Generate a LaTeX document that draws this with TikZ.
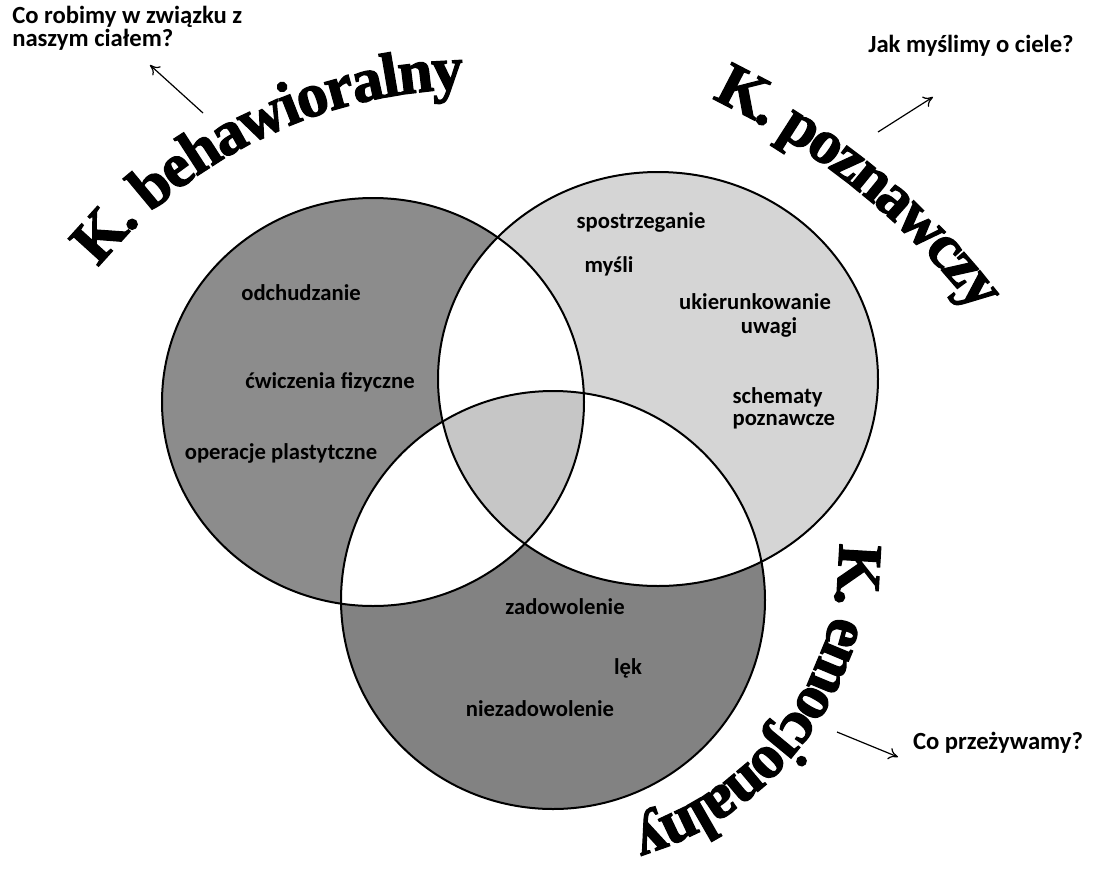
\documentclass[tikz,border=0pt]{standalone}
\usepackage{fontspec}
\setmainfont{Carlito}
\newfontfamily\titlefont{Liberation Serif Bold}[FakeBold=2]
\usetikzlibrary{arrows.meta}

\definecolor{behgrey}{HTML}{8C8C8C}
\definecolor{emogrey}{HTML}{828282}
\definecolor{coggrey}{HTML}{D5D5D5}
\definecolor{coregrey}{HTML}{C6C6C6}

% the three sets of the Venn diagram
\newcommand\behset{(373,-402) ellipse [x radius=211, y radius=204]}
\newcommand\cogset{(658,-379) ellipse [x radius=220, y radius=207]}
\newcommand\emoset{(553,-600) ellipse [x radius=212, y radius=209]}

\newcommand\titlept{47}
\newcommand\titlesize{\titlefont\fontsize{\titlept}{\titlept}\selectfont}
\def\arcgap{~}
% letters set one by one, clockwise, on a circular baseline
% #1 name prefix, #2 centre, #3 radius, #4 angle of the left edge of the first letter,
% #5 spacing factor, #6 letter/advance-width pairs (width in em, ~ is a word space)
\newcommand\arcletters[6]{%
  \xdef\arcpos{#4}%
  \foreach \ch/\w [count=\k] in {#6} {%
    \pgfmathsetmacro\arcstep{\w*\titlept*#5/(#3*0.75)*57.29578}%
    \pgfmathsetmacro\arcmid{\arcpos-\arcstep/2}%
    \ifx\ch\arcgap\else
      \node[titlechar, rotate=\arcmid-90] (#1\k) at ([shift={(\arcmid:#3)}]#2) {\ch};%
    \fi
    \pgfmathsetmacro\arcnext{\arcpos-\arcstep}%
    \xdef\arcpos{\arcnext}%
  }%
}

\begin{document}
\begin{tikzpicture}[x=0.75pt, y=0.75pt,
  ring/.style={draw=black, line width=1.5pt},
  item/.style={font=\bfseries\fontsize{17}{19}\selectfont, inner sep=1pt},
  note/.style={font=\bfseries\fontsize{18.5}{17.5}\selectfont, inner sep=0pt, align=left},
  pointer/.style={-{To[length=7pt,width=9pt]}, line width=0.9pt},
  titlechar/.style={font=\titlesize, anchor=base, inner sep=0pt}
]
\useasboundingbox (0,0) rectangle (1093,-868);
\fill[white] (0,0) rectangle (1093,-868);

% single-set regions
\fill[behgrey] \behset;
\fill[coggrey] \cogset;
\fill[emogrey] \emoset;
% pairwise overlaps are white
\begin{scope}
  \clip \behset;
  \fill[white] \cogset;
  \fill[white] \emoset;
\end{scope}
\begin{scope}
  \clip \cogset;
  \fill[white] \emoset;
\end{scope}
% common part of all three sets
\begin{scope}
  \clip \behset;
  \clip \cogset;
  \fill[coregrey] \emoset;
\end{scope}
% outlines
\draw[ring] \behset;
\draw[ring] \cogset;
\draw[ring] \emoset;

% contents of the sets
\node[item] (odch) at (301,-293) {odchudzanie};
\node[item] (cwicz) at (330,-382) {ćwiczenia fizyczne};
\node[item] (oper) at (281,-453) {operacje plastytczne};
\node[item] (spos) at (641,-222) {spostrzeganie};
\node[item] (mysli) at (609,-266) {myśli};
\node[item] (ukier) at (755,-302) {ukierunkowanie};
\node[item] (uwagi) at (769,-327) {uwagi};
\node[item, anchor=west] (schem) at (731,-397) {schematy};
\node[item, anchor=west] (pozn) at (731,-422) {poznawcze};
\node[item] (zadow) at (565,-607) {zadowolenie};
\node[item] (lek) at (628,-668) {lęk};
\node[item] (niezad) at (540,-709) {niezadowolenie};

% curved titles
\arcletters{beh}{475,-576}{487}{140.5}{0.936}{K/0.778, ./0.25, ~/0.25, b/0.556, e/0.444, h/0.556,
  a/0.5, w/0.722, i/0.278, o/0.5, r/0.444, a/0.5, l/0.278, n/0.556, y/0.5}
\arcletters{cog}{396,-760}{733}{64.3}{0.913}{K/0.778, ./0.25, ~/0.25, p/0.556, o/0.5, z/0.444,
  n/0.556, a/0.5, w/0.722, c/0.444, z/0.444, y/0.5}
\arcletters{emo}{550,-551}{289}{0.97}{0.89}{K/0.778, ./0.25, ~/0.25, e/0.444, m/0.833, o/0.5,
  c/0.444, j/0.333, o/0.5, n/0.556, a/0.5, l/0.278, n/0.556, y/0.5}

% questions and their pointers
\node[note, anchor=north west] (qbeh) at (12,-6) {Co robimy w związku z\\naszym ciałem?};
\node[note] (qcog) at (971,-46) {Jak myślimy o ciele?};
\node[note] (qemo) at (998,-743) {Co przeżywamy?};

\coordinate (pbehs) at (203,-113);
\coordinate (pbehe) at (150,-65);
\coordinate (pcogs) at (878,-132);
\coordinate (pcoge) at (933,-97);
\coordinate (pemos) at (837,-732);
\coordinate (pemoe) at (898,-757);
\draw[pointer] (pbehs) -- (pbehe);
\draw[pointer] (pcogs) -- (pcoge);
\draw[pointer] (pemos) -- (pemoe);
\end{tikzpicture}
\end{document}
